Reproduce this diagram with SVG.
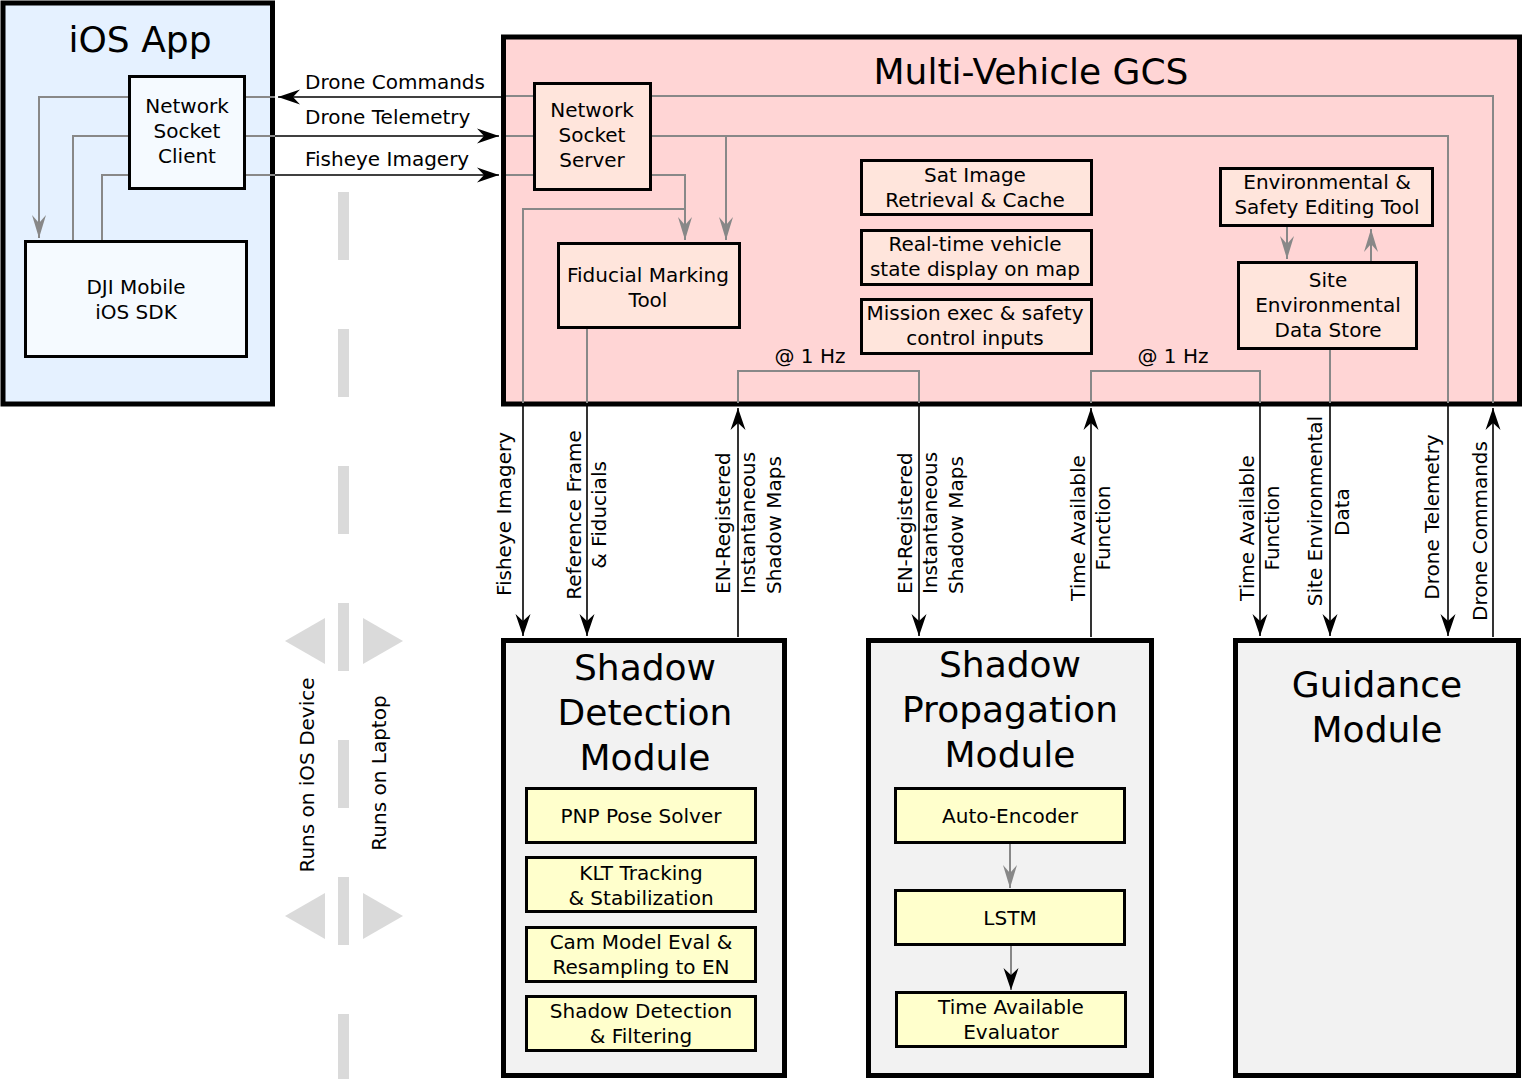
<svg xmlns="http://www.w3.org/2000/svg" width="1524" height="1079" viewBox="0 0 1524 1079">
<defs>
<style>
text{font-family:"DejaVu Sans","Liberation Sans",sans-serif;fill:#000}
.t20{font-size:20px}
.t36{font-size:36px}
.c{text-anchor:middle}
.big{stroke:#000;stroke-width:5}
.box{stroke:#000;stroke-width:3}
.ios{fill:#e5f1ff}
.iosin{fill:#f5faff}
.gcs{fill:#ffd5d5}
.gcsin{fill:#ffe5dc}
.mod{fill:#f2f2f2}
.yel{fill:#ffffcc}
.g{fill:none;stroke:#888;stroke-width:2}
.k{fill:none;stroke:#000;stroke-width:1.6}
.dash{fill:#dadada}
</style>
<marker id="ak" viewBox="-23 -8 24 16" refX="0" refY="0" markerWidth="24" markerHeight="16" markerUnits="userSpaceOnUse" orient="auto">
<path d="M0,0 L-22,-7.5 L-15,0 L-22,7.5 Z" fill="#000"/>
</marker>
<marker id="ag" viewBox="-23 -8 24 16" refX="0" refY="0" markerWidth="24" markerHeight="16" markerUnits="userSpaceOnUse" orient="auto">
<path d="M0,0 L-23,-7 L-15,0 L-23,7 Z" fill="#888"/>
</marker>
</defs>
<rect width="1524" height="1079" fill="#fff"/>

<g id="divider">
<rect class="dash" x="338" y="192" width="11" height="68"/>
<rect class="dash" x="338" y="329" width="11" height="68"/>
<rect class="dash" x="338" y="466" width="11" height="68"/>
<rect class="dash" x="338" y="603" width="11" height="68"/>
<rect class="dash" x="338" y="740" width="11" height="68"/>
<rect class="dash" x="338" y="877" width="11" height="68"/>
<rect class="dash" x="338" y="1014" width="11" height="68"/>
<polygon class="dash" points="285,641 325,618 325,664"/>
<polygon class="dash" points="403,641 363,618 363,664"/>
<polygon class="dash" points="285,916 325,893 325,939"/>
<polygon class="dash" points="403,916 363,893 363,939"/>
<text class="t20 c" transform="translate(314,775) rotate(-90)">Runs on iOS Device</text>
<text class="t20 c" transform="translate(386,773) rotate(-90)">Runs on Laptop</text>
</g>

<g id="ios-app">
<rect class="big ios" x="3" y="3" width="269.5" height="401"/>
<text class="t36 c" x="140" y="52">iOS App</text>
</g>
<g id="gcs">
<rect class="big gcs" x="503.5" y="37" width="1016" height="367"/>
<text class="t36 c" x="1031" y="84">Multi-Vehicle GCS</text>
</g>

<g id="network-socket-client">
<rect class="box iosin" x="129.5" y="76.5" width="115" height="112"/>
<text class="t20 c" x="187" y="113">Network</text>
<text class="t20 c" x="187" y="138">Socket</text>
<text class="t20 c" x="187" y="163">Client</text>
</g>
<g id="dji-sdk">
<rect class="box iosin" x="25.5" y="241.5" width="221" height="115"/>
<text class="t20 c" x="136" y="294">DJI Mobile</text>
<text class="t20 c" x="136" y="319">iOS SDK</text>
</g>
<g id="network-socket-server">
<rect class="box gcsin" x="534.5" y="83.5" width="116" height="106"/>
<text class="t20 c" x="592" y="117">Network</text>
<text class="t20 c" x="592" y="142">Socket</text>
<text class="t20 c" x="592" y="167">Server</text>
</g>
<g id="fiducial-marking-tool">
<rect class="box gcsin" x="558.5" y="243.5" width="181" height="84"/>
<text class="t20 c" x="648" y="282">Fiducial Marking</text>
<text class="t20 c" x="648" y="307">Tool</text>
</g>
<g id="sat-image">
<rect class="box gcsin" x="861.5" y="160.5" width="230" height="54"/>
<text class="t20 c" x="975" y="182">Sat Image</text>
<text class="t20 c" x="975" y="207">Retrieval &amp; Cache</text>
</g>
<g id="realtime-display">
<rect class="box gcsin" x="861.5" y="230.5" width="230" height="54"/>
<text class="t20 c" x="975" y="251">Real-time vehicle</text>
<text class="t20 c" x="975" y="276">state display on map</text>
</g>
<g id="mission-exec">
<rect class="box gcsin" x="861.5" y="299.5" width="230" height="54"/>
<text class="t20 c" x="975" y="320">Mission exec &amp; safety</text>
<text class="t20 c" x="975" y="345">control inputs</text>
</g>
<g id="env-safety-tool">
<rect class="box gcsin" x="1220.5" y="168.5" width="212" height="57"/>
<text class="t20 c" x="1327" y="189">Environmental &amp;</text>
<text class="t20 c" x="1327" y="214">Safety Editing Tool</text>
</g>
<g id="site-env-store">
<rect class="box gcsin" x="1238.5" y="262.5" width="178" height="86"/>
<text class="t20 c" x="1328" y="287">Site</text>
<text class="t20 c" x="1328" y="312">Environmental</text>
<text class="t20 c" x="1328" y="337">Data Store</text>
</g>

<g id="shadow-detection-module">
<rect class="big mod" x="503.5" y="640.5" width="281" height="435"/>
<text class="t36 c" x="645" y="680">Shadow</text>
<text class="t36 c" x="645" y="725">Detection</text>
<text class="t36 c" x="645" y="770">Module</text>
</g>
<g id="pnp">
<rect class="box yel" x="526.5" y="788.5" width="229" height="54"/>
<text class="t20 c" x="641" y="823">PNP Pose Solver</text>
</g>
<g id="klt">
<rect class="box yel" x="526.5" y="857.5" width="229" height="54"/>
<text class="t20 c" x="641" y="880">KLT Tracking</text>
<text class="t20 c" x="641" y="905">&amp; Stabilization</text>
</g>
<g id="cam-model">
<rect class="box yel" x="526.5" y="927.5" width="229" height="54"/>
<text class="t20 c" x="641" y="949">Cam Model Eval &amp;</text>
<text class="t20 c" x="641" y="974">Resampling to EN</text>
</g>
<g id="shadow-filter">
<rect class="box yel" x="526.5" y="996.5" width="229" height="54"/>
<text class="t20 c" x="641" y="1018">Shadow Detection</text>
<text class="t20 c" x="641" y="1043">&amp; Filtering</text>
</g>

<g id="shadow-propagation-module">
<rect class="big mod" x="868.5" y="640.5" width="283" height="435"/>
<text class="t36 c" x="1010" y="677">Shadow</text>
<text class="t36 c" x="1010" y="722">Propagation</text>
<text class="t36 c" x="1010" y="767">Module</text>
</g>
<g id="auto-encoder">
<rect class="box yel" x="895.5" y="788.5" width="229" height="54"/>
<text class="t20 c" x="1010" y="823">Auto-Encoder</text>
</g>
<g id="lstm">
<rect class="box yel" x="895.5" y="890.5" width="229" height="54"/>
<text class="t20 c" x="1010" y="925">LSTM</text>
</g>
<g id="time-available-evaluator">
<rect class="box yel" x="896.5" y="992.5" width="229" height="54"/>
<text class="t20 c" x="1011" y="1014">Time Available</text>
<text class="t20 c" x="1011" y="1039">Evaluator</text>
</g>

<g id="guidance-module">
<rect class="big mod" x="1235.5" y="640.5" width="283" height="435"/>
<text class="t36 c" x="1377" y="697">Guidance</text>
<text class="t36 c" x="1377" y="742">Module</text>
</g>

<g id="connectors">
<path class="g" d="M128,97 H39 V238" marker-end="url(#ag)"/>
<path class="g" d="M73,240 V136 H128"/>
<path class="g" d="M102,240 V175 H128"/>
<path class="g" d="M246,97 H275 M246,136 H275 M246,175 H275"/>
<path class="k" d="M501,97 H278" marker-end="url(#ak)"/>
<path class="k" d="M275,136 H499" marker-end="url(#ak)"/>
<path class="k" d="M275,175 H499" marker-end="url(#ak)"/>
<path class="g" d="M506,96 H533 M506,136 H533 M506,175 H533"/>
<path class="g" d="M652,96 H1493 V403"/>
<path class="g" d="M652,136 H1448 V403"/>
<path class="g" d="M726,136 V240" marker-end="url(#ag)"/>
<path class="g" d="M652,175 H685 V240" marker-end="url(#ag)"/>
<path class="g" d="M685,209 H523 V403"/>
<path class="g" d="M587,329 V403"/>
<path class="g" d="M738,403 V371 H919 V403"/>
<path class="g" d="M1091,403 V371 H1260 V403"/>
<path class="g" d="M1330,350 V403"/>
<path class="g" d="M1287,227 V259" marker-end="url(#ag)"/>
<path class="g" d="M1371,261 V229" marker-end="url(#ag)"/>
<path class="k" d="M523,406 V636" marker-end="url(#ak)"/>
<path class="k" d="M587,406 V636" marker-end="url(#ak)"/>
<path class="k" d="M738,637 V408" marker-end="url(#ak)"/>
<path class="k" d="M919,406 V636" marker-end="url(#ak)"/>
<path class="k" d="M1091,637 V408" marker-end="url(#ak)"/>
<path class="k" d="M1260,406 V636" marker-end="url(#ak)"/>
<path class="k" d="M1330,406 V636" marker-end="url(#ak)"/>
<path class="k" d="M1448,406 V636" marker-end="url(#ak)"/>
<path class="k" d="M1493,637 V408" marker-end="url(#ak)"/>
<path class="g" d="M1010,844 V888" marker-end="url(#ag)"/>
<path class="g" d="M1011,946 V990" marker-end="url(#ak)"/>
</g>

<g id="connector-labels">
<text class="t20" x="305" y="89">Drone Commands</text>
<text class="t20" x="305" y="124">Drone Telemetry</text>
<text class="t20" x="305" y="166">Fisheye Imagery</text>
<text class="t20 c" x="810" y="363">@ 1 Hz</text>
<text class="t20 c" x="1173" y="363">@ 1 Hz</text>
<text class="t20 c" transform="translate(511,514) rotate(-90)">Fisheye Imagery</text>
<text class="t20 c" transform="translate(581,515) rotate(-90)">Reference Frame</text>
<text class="t20 c" transform="translate(606,515) rotate(-90)">&amp; Fiducials</text>
<text class="t20" transform="translate(730,594) rotate(-90)">EN-Registered</text>
<text class="t20" transform="translate(755,594) rotate(-90)">Instantaneous</text>
<text class="t20" transform="translate(781,594) rotate(-90)">Shadow Maps</text>
<text class="t20" transform="translate(912,594) rotate(-90)">EN-Registered</text>
<text class="t20" transform="translate(937,594) rotate(-90)">Instantaneous</text>
<text class="t20" transform="translate(963,594) rotate(-90)">Shadow Maps</text>
<text class="t20 c" transform="translate(1085,528) rotate(-90)">Time Available</text>
<text class="t20 c" transform="translate(1110,528) rotate(-90)">Function</text>
<text class="t20 c" transform="translate(1254,528) rotate(-90)">Time Available</text>
<text class="t20 c" transform="translate(1279,528) rotate(-90)">Function</text>
<text class="t20 c" transform="translate(1322,511) rotate(-90)">Site Environmental</text>
<text class="t20 c" transform="translate(1349,512) rotate(-90)">Data</text>
<text class="t20 c" transform="translate(1439,517) rotate(-90)">Drone Telemetry</text>
<text class="t20 c" transform="translate(1487,531) rotate(-90)">Drone Commands</text>
</g>
</svg>
